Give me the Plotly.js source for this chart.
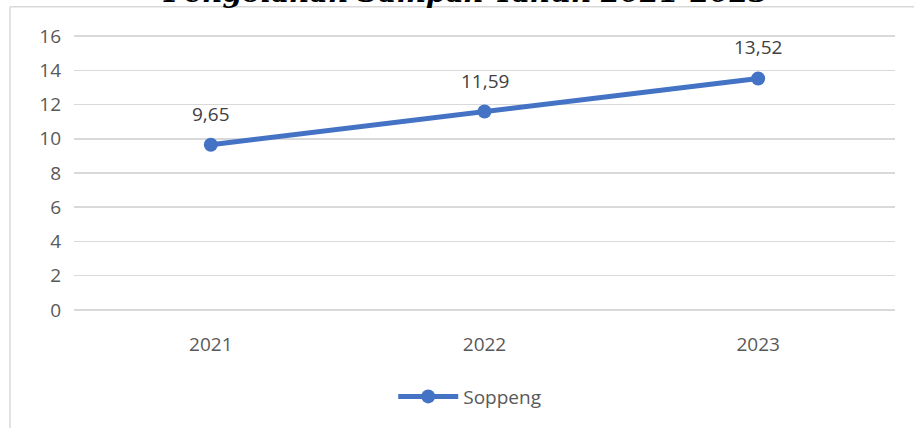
<!DOCTYPE html>
<html>
<head>
<meta charset="utf-8">
<script src="https://cdn.plot.ly/plotly-3.0.1.min.js"></script>
<style>html,body{margin:0;padding:0;background:#fff;}#chart{width:914px;height:428px;}</style>
</head>
<body>
<div id="chart"></div>
<script>
const years = ['2021', '2022', '2023'];
const soppeng = [9.65, 11.59, 13.52];
const seriesName = 'Soppeng';
const titleText = 'Pengolahan Sampah Tahun 2021-2023';
const yTicks = [0, 2, 4, 6, 8, 10, 12, 14, 16];

const fmt = v => v.toFixed(2).replace('.', ',');

const trace = {
  x: years,
  y: soppeng,
  type: 'scatter',
  mode: 'lines+markers',
  name: seriesName,
  line: {color: '#4472C4', width: 5},
  marker: {color: '#4472C4', size: 14},
  cliponaxis: false
};

const labelAnn = years.map((yr, i) => ({
  x: i, y: soppeng[i], xref: 'x', yref: 'y',
  text: fmt(soppeng[i]), showarrow: false, yshift: 31,
  font: {family: 'Open Sans, sans-serif', size: 19, color: '#404040'}
}));

const layout = {
  width: 914, height: 428,
  margin: {l: 74, r: 19, t: 35, b: 117},
  paper_bgcolor: '#ffffff', plot_bgcolor: '#ffffff',
  showlegend: true,
  legend: {
    orientation: 'h', x: 0.482, xanchor: 'center', y: -0.31, yanchor: 'middle',
    font: {family: 'Open Sans, sans-serif', size: 19, color: '#595959'},
    itemwidth: 60
  },
  xaxis: {
    type: 'category', range: [-0.5, 2.5], showgrid: false, zeroline: false,
    showline: false, ticks: '', fixedrange: true, ticklabelstandoff: 20,
    tickfont: {family: 'Open Sans, sans-serif', size: 19, color: '#595959'}
  },
  yaxis: {
    range: [-0.06, 16.06], tickvals: yTicks, ticktext: yTicks.map(String),
    showgrid: true, gridcolor: '#d9d9d9', gridwidth: 1.5, zeroline: false,
    showline: false, ticks: '', ticklabelstandoff: 12,
    tickfont: {family: 'Open Sans, sans-serif', size: 19, color: '#595959'}
  },
  shapes: [
    {type: 'line', xref: 'paper', yref: 'paper', x0: -0.078, x1: -0.078, y0: 1.102, y1: -0.5,
     line: {color: '#d9d9d9', width: 1.5}},
    {type: 'line', xref: 'paper', yref: 'paper', x0: -0.078, x1: 1.05, y0: 1.102, y1: 1.102,
     line: {color: '#d9d9d9', width: 1.5}}
  ],
  annotations: labelAnn.concat([{
    xref: 'paper', yref: 'paper', x: 0.478, y: 1.088, xanchor: 'center', yanchor: 'bottom',
    text: '<b><i>' + titleText + '</i></b>', showarrow: false,
    font: {family: 'DejaVu Serif, serif', size: 28, color: '#000000'}
  }])
};

Plotly.newPlot('chart', [trace], layout, {displayModeBar: false, staticPlot: true});
</script>
</body>
</html>
